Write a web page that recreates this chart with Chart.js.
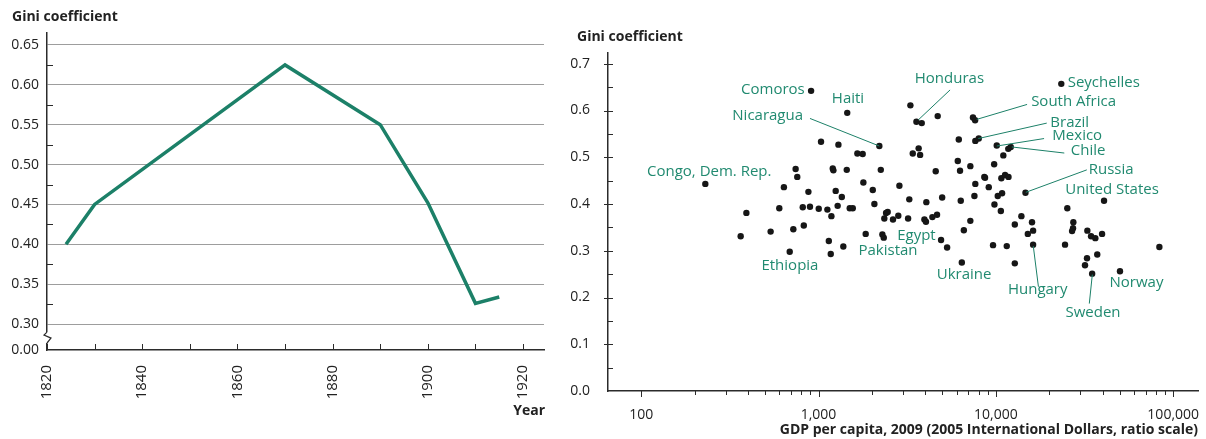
<!DOCTYPE html>
<html>
<head>
<meta charset="utf-8">
<script src="https://cdn.jsdelivr.net/npm/chart.js@4.4.1/dist/chart.umd.min.js"></script>
<style>
  html, body { margin: 0; padding: 0; background: #fff; overflow: hidden; }
  #wrap { position: relative; width: 1206px; height: 439px; overflow: hidden; }
  #left { position: absolute; left: 0; top: 0; }
  #right { position: absolute; left: 560px; top: 0; }
</style>
</head>
<body>
<div id="wrap">
  <canvas id="left" width="560" height="439"></canvas>
  <canvas id="right" width="670" height="439"></canvas>
</div>
<script>
// ---- left panel: Gini over time ----
const years = [1824, 1830, 1870, 1890, 1900, 1910, 1915];
const giniByYear = [0.40, 0.45, 0.625, 0.55, 0.452, 0.326, 0.334];
const leftYTicks = [0.30, 0.35, 0.40, 0.45, 0.50, 0.55, 0.60, 0.65];
const leftXTicks = [1820, 1840, 1860, 1880, 1900, 1920];
const BREAK = 0.2675; // where "0.00" sits below the axis break

// ---- right panel: Gini vs GDP per capita, 2009 ----
const gdp = [
  908, 1452, 3297, 3565, 3820, 4700, 7430, 7640, 23390, 1033,
  1295, 2203, 1656, 1774, 6180, 7660, 8010, 10120, 11020, 3670,
  3400, 3740, 11750, 12130, 743, 759, 1203, 1213, 1443, 2245,
  4580, 6100, 6280, 7180, 9780, 8610, 10740, 11270, 11780, 230,
  638, 877, 392, 601, 815, 895, 1003, 364, 537, 721,
  826, 688, 1790, 1250, 1353, 2023, 2858, 1122, 1182, 1282,
  1500, 1560, 2066, 3250, 4055, 4980, 6340, 7660, 8690, 9120,
  7570, 10250, 10840, 9820, 10670, 2404, 2455, 2350, 2630, 2818,
  3200, 3955, 4035, 4385, 4660, 1845, 2291, 2333, 1143, 1380,
  1172, 4910, 5310, 6430, 6600, 7180, 9640, 11520, 14690, 40740,
  25290, 13930, 12790, 15990, 15140, 16220, 16220, 12790, 24550, 27350,
  27240, 26900, 32810, 34430, 36380, 39720, 32660, 31820, 37310, 34910,
  50120, 83560
];
const gini = [
  0.642, 0.595, 0.611, 0.576, 0.573, 0.588, 0.585, 0.579, 0.657, 0.533,
  0.527, 0.524, 0.508, 0.507, 0.538, 0.535, 0.540, 0.525, 0.504, 0.519,
  0.508, 0.505, 0.518, 0.522, 0.475, 0.458, 0.476, 0.472, 0.473, 0.473,
  0.470, 0.492, 0.471, 0.481, 0.485, 0.458, 0.455, 0.462, 0.458, 0.443,
  0.436, 0.426, 0.381, 0.391, 0.393, 0.394, 0.390, 0.331, 0.341, 0.346,
  0.354, 0.298, 0.446, 0.428, 0.415, 0.430, 0.439, 0.388, 0.374, 0.396,
  0.391, 0.391, 0.400, 0.410, 0.404, 0.414, 0.407, 0.443, 0.456, 0.436,
  0.417, 0.417, 0.423, 0.399, 0.385, 0.381, 0.383, 0.369, 0.367, 0.375,
  0.369, 0.367, 0.362, 0.372, 0.377, 0.336, 0.335, 0.328, 0.321, 0.309,
  0.293, 0.323, 0.307, 0.275, 0.344, 0.364, 0.312, 0.310, 0.424, 0.407,
  0.391, 0.374, 0.356, 0.361, 0.336, 0.343, 0.313, 0.273, 0.313, 0.361,
  0.348, 0.342, 0.343, 0.331, 0.327, 0.336, 0.284, 0.269, 0.292, 0.251,
  0.256, 0.308
];
const gdpTicks = [100, 1000, 10000, 100000];
const giniTicks = [0, 0.1, 0.2, 0.3, 0.4, 0.5, 0.6, 0.7];

// country labels (placed in data coordinates), optional leader line
const countryLabels = [
  { text: 'Comoros', x: 836, y: 0.644, align: 'right' },
  { text: 'Haiti', x: 1466, y: 0.625 },
  { text: 'Nicaragua', x: 818, y: 0.588, align: 'right', line: [[895, 0.583], [2203, 0.524]] },
  { text: 'Congo, Dem. Rep.', x: 242, y: 0.468 },
  { text: 'Honduras', x: 5470, y: 0.667, line: [[5520, 0.644], [3656, 0.580]] },
  { text: 'Seychelles', x: 25410, y: 0.660, align: 'left' },
  { text: 'South Africa', x: 15810, y: 0.618, align: 'left', line: [[15000, 0.613], [7800, 0.581]] },
  { text: 'Brazil', x: 20290, y: 0.574, align: 'left', line: [[19360, 0.573], [7960, 0.540]] },
  { text: 'Mexico', x: 20830, y: 0.545, align: 'left', line: [[18700, 0.540], [10120, 0.524]] },
  { text: 'Chile', x: 26450, y: 0.513, align: 'left', line: [[24320, 0.509], [12300, 0.522]] },
  { text: 'Russia', x: 33410, y: 0.474, align: 'left', line: [[32570, 0.473], [14760, 0.425]] },
  { text: 'United States', x: 45180, y: 0.430 },
  { text: 'Egypt', x: 3565, y: 0.333 },
  { text: 'Pakistan', x: 2466, y: 0.301 },
  { text: 'Ethiopia', x: 690, y: 0.269 },
  { text: 'Ukraine', x: 6620, y: 0.248 },
  { text: 'Hungary', x: 17220, y: 0.216, line: [[17380, 0.223], [16260, 0.310]] },
  { text: 'Sweden', x: 35310, y: 0.167, line: [[33650, 0.187], [34990, 0.249]] },
  { text: 'Norway', x: 62080, y: 0.231 }
];

const TEAL = '#1c8068';
const LABEL = '#218a70';
const AXIS = '#2b2b2b';
const FONT = "'Open Sans', sans-serif";

Chart.defaults.font.family = FONT;
Chart.defaults.font.size = 14;
Chart.defaults.color = '#222';

function seg(ctx, x1, y1, x2, y2) {
  ctx.beginPath();
  ctx.moveTo(x1, y1);
  ctx.lineTo(x2, y2);
  ctx.stroke();
}

function fmtThousands(v) {
  return String(v).replace(/\B(?=(\d{3})+(?!\d))/g, ',');
}

// decorations for the left panel
const leftDecor = {
  id: 'leftDecor',
  afterDraw(chart) {
    const { ctx, chartArea: a, scales: { x, y } } = chart;
    ctx.save();
    ctx.strokeStyle = AXIS;
    ctx.lineWidth = 1;
    // minor ticks inside the y axis
    for (let v = 0.325; v < 0.66; v += 0.05) {
      const py = Math.round(y.getPixelForValue(v)) + 0.5;
      seg(ctx, a.left, py, a.left + 6, py);
    }
    // tick marks every 10 years, pointing up
    for (let yr = 1820; yr <= 1920; yr += 10) {
      const px = Math.round(x.getPixelForValue(yr)) + 0.5;
      seg(ctx, px, a.bottom, px, a.bottom - 6);
    }
    // axis break
    const y1 = y.getPixelForValue(0.30) + 8;
    const y2 = y.getPixelForValue(BREAK) - 7;
    ctx.fillStyle = '#fff';
    ctx.fillRect(a.left - 2, y1, 4, y2 - y1);
    ctx.lineWidth = 1.2;
    ctx.beginPath();
    ctx.moveTo(a.left, y1);
    ctx.lineTo(a.left - 3, y1 + 3);
    ctx.lineTo(a.left + 4, y1 + 6);
    ctx.lineTo(a.left, y2);
    ctx.stroke();
    // titles
    ctx.fillStyle = '#222';
    ctx.font = 'bold 14px ' + FONT;
    ctx.textBaseline = 'middle';
    ctx.textAlign = 'left';
    ctx.fillText('Gini coefficient', 12, 17);
    ctx.textAlign = 'right';
    ctx.fillText('Year', a.right + 1, 411);
    ctx.restore();
  }
};

// decorations for the right panel
const rightDecor = {
  id: 'rightDecor',
  afterDraw(chart) {
    const { ctx, chartArea: a, scales: { x, y } } = chart;
    ctx.save();
    ctx.strokeStyle = AXIS;
    ctx.lineWidth = 1;
    // y ticks: major cross the axis, minor inside
    giniTicks.forEach(v => {
      const py = Math.round(y.getPixelForValue(v)) + 0.5;
      if (v > 0) seg(ctx, a.left - 4, py, a.left + 5, py);
      const pm = Math.round(y.getPixelForValue(v + 0.05)) + 0.5;
      if (v + 0.05 < 0.72) seg(ctx, a.left, pm, a.left + 5, pm);
    });
    // x ticks: decades and minor steps, pointing down
    gdpTicks.forEach(d => {
      const px = Math.round(x.getPixelForValue(d)) + 0.5;
      seg(ctx, px, a.bottom, px, a.bottom + 6);
      if (d < 100000) {
        for (let k = 2; k <= 9; k++) {
          const pk = Math.round(x.getPixelForValue(d * k)) + 0.5;
          seg(ctx, pk, a.bottom, pk, a.bottom + 4);
        }
      }
    });
    // country labels and leader lines
    ctx.strokeStyle = TEAL;
    ctx.lineWidth = 1;
    ctx.fillStyle = LABEL;
    ctx.font = '15px ' + FONT;
    ctx.textBaseline = 'middle';
    countryLabels.forEach(l => {
      if (l.line) {
        const [p, q] = l.line;
        seg(ctx, x.getPixelForValue(p[0]), y.getPixelForValue(p[1]),
          x.getPixelForValue(q[0]), y.getPixelForValue(q[1]));
      }
      ctx.textAlign = l.align || 'center';
      ctx.fillText(l.text, x.getPixelForValue(l.x), y.getPixelForValue(l.y));
    });
    // titles
    ctx.fillStyle = '#222';
    ctx.font = 'bold 14px ' + FONT;
    ctx.textAlign = 'left';
    ctx.fillText('Gini coefficient', 17, 37);
    ctx.textAlign = 'right';
    ctx.fillText('GDP per capita, 2009 (2005 International Dollars, ratio scale)', a.right, 430);
    ctx.restore();
  }
};

new Chart(document.getElementById('left'), {
  type: 'line',
  data: {
    datasets: [{
      data: years.map((yr, i) => ({ x: yr, y: giniByYear[i] })),
      borderColor: TEAL,
      borderWidth: 3.5,
      pointRadius: 0,
      tension: 0,
      borderJoinStyle: 'miter',
      fill: false
    }]
  },
  options: {
    responsive: false,
    animation: false,
    layout: { padding: { top: 33, right: 16, left: 0, bottom: 0 } },
    plugins: { legend: { display: false }, tooltip: { enabled: false } },
    scales: {
      x: {
        type: 'linear',
        min: 1820,
        max: 1924.4,
        afterBuildTicks: s => { s.ticks = leftXTicks.map(v => ({ value: v })); },
        afterFit: s => { s.height = 89; },
        ticks: { minRotation: 90, maxRotation: 90, padding: 7, autoSkip: false, font: { size: 15 }, callback: v => String(v) },
        grid: { display: false },
        border: { color: AXIS, width: 1.5 }
      },
      y: {
        min: BREAK,
        max: 0.665,
        afterBuildTicks: s => { s.ticks = [BREAK].concat(leftYTicks).map(v => ({ value: v })); },
        afterFit: s => { s.width = 47; },
        ticks: { padding: 8, callback: v => (v === BREAK ? '0.00' : v.toFixed(2)) },
        grid: {
          drawTicks: false,
          color: c => (c.tick && c.tick.value === BREAK ? 'rgba(0,0,0,0)' : '#9d9d9d'),
          lineWidth: 1
        },
        border: { color: AXIS, width: 1.5 }
      }
    }
  },
  plugins: [leftDecor]
});

new Chart(document.getElementById('right'), {
  type: 'scatter',
  data: {
    datasets: [{
      data: gdp.map((g, i) => ({ x: g, y: gini[i] })),
      pointRadius: 3.2,
      pointBackgroundColor: '#161616',
      pointBorderWidth: 0
    }]
  },
  options: {
    responsive: false,
    animation: false,
    layout: { padding: { top: 53, right: 32, left: 0, bottom: 0 } },
    plugins: { legend: { display: false }, tooltip: { enabled: false } },
    scales: {
      x: {
        type: 'logarithmic',
        min: 65,
        max: 138000,
        afterBuildTicks: s => { s.ticks = gdpTicks.map(v => ({ value: v })); },
        afterFit: s => { s.height = 48; },
        ticks: { padding: 8, maxRotation: 0, autoSkip: false, callback: v => fmtThousands(v) },
        grid: { display: false },
        border: { color: AXIS, width: 1.5 }
      },
      y: {
        min: 0,
        max: 0.723,
        afterBuildTicks: s => { s.ticks = giniTicks.map(v => ({ value: v })); },
        afterFit: s => { s.width = 48; },
        ticks: { padding: 10, callback: v => v.toFixed(1) },
        grid: { display: false },
        border: { color: AXIS, width: 1.5 }
      }
    }
  },
  plugins: [rightDecor]
});
</script>
</body>
</html>
